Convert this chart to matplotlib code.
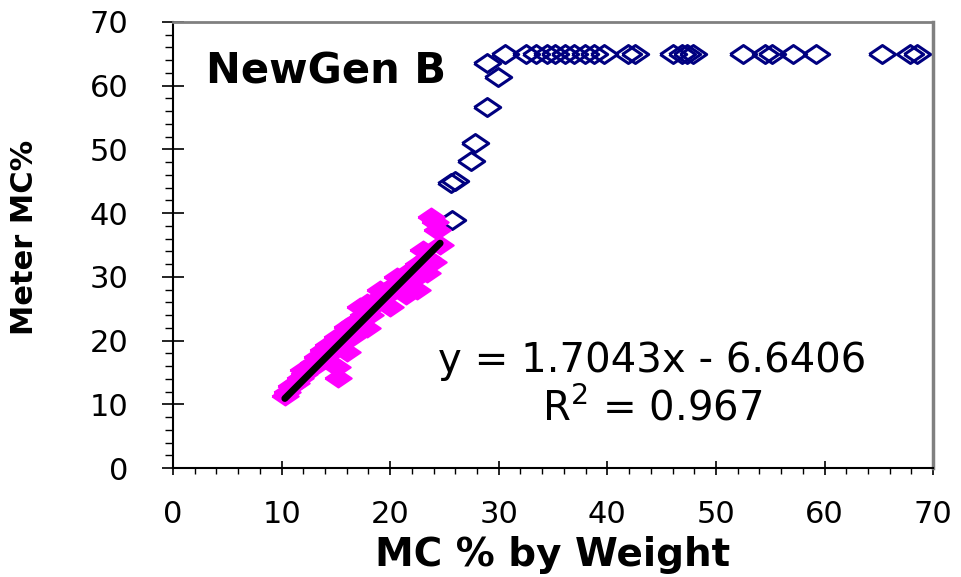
import matplotlib
matplotlib.use("Agg")
import matplotlib.pyplot as plt
from matplotlib.ticker import MultipleLocator
import numpy as np

plt.rcParams["font.family"] = ["DejaVu Sans"]
plt.rcParams["mathtext.default"] = "regular"

# ----------------------------------------------------------------------
# data
# ----------------------------------------------------------------------
# readings above the linear range (open navy diamonds)
blue_x = [25.7, 25.6, 26.0, 27.4, 27.8, 28.9, 28.9, 29.9,
          30.6, 32.5, 33.4, 34.4, 35.2, 36.1, 36.9, 37.9, 38.8, 39.7,
          41.9, 42.5, 46.0, 46.9, 47.3, 47.9, 52.5, 54.5, 55.2, 57.1,
          59.2, 65.3, 67.9, 68.5]
blue_y = [38.9, 44.7, 45.1, 48.2, 51.0, 56.7, 63.6, 61.4,
          65.0, 65.0, 65.0, 65.0, 65.0, 65.0, 65.0, 65.0, 65.0, 65.0,
          65.0, 65.0, 65.0, 65.0, 65.0, 65.0, 65.0, 65.0, 65.0, 65.0,
          65.0, 65.0, 65.0, 65.0]

# readings used for the fit (filled magenta diamonds)
mag_x = [10.3, 10.5, 10.9, 11.3, 11.7, 12.1, 12.0, 12.6, 12.9, 13.3,
         13.4, 13.8, 14.1, 14.3, 14.7, 15.1, 15.1, 15.2, 15.6, 16.0,
         16.0, 16.5, 16.6, 17.2, 17.5, 17.9, 17.9, 18.1, 18.4, 18.8,
         19.1, 19.1, 19.6, 20.0, 20.1, 20.6, 20.6, 21.1, 21.5, 21.8,
         21.9, 22.5, 22.5, 22.6, 23.0, 23.4, 23.4, 23.9, 23.8, 24.3,
         24.1, 24.6]
mag_y = [11.3, 12.0, 12.8, 13.4, 14.2, 14.8, 15.4, 15.7, 16.5, 17.4,
         16.4, 18.5, 17.6, 19.3, 19.6, 20.6, 15.9, 14.2, 20.4, 18.2,
         22.1, 20.6, 22.8, 25.3, 24.0, 25.9, 22.0, 24.0, 25.4, 26.3,
         26.9, 28.0, 27.0, 25.3, 28.0, 29.0, 30.0, 29.6, 27.2, 29.5,
         31.0, 30.0, 27.9, 32.0, 34.2, 30.6, 33.0, 32.4, 39.4, 37.4,
         38.6, 35.0]

# trendline coefficients as printed on the chart
slope = 1.7043
intercept = -6.6406
r_squared = 0.967

# wide diamond, like the stretched Excel marker
diamond = [(-0.5, 0.0), (0.0, 0.34), (0.5, 0.0), (0.0, -0.34), (-0.5, 0.0)]

fig = plt.figure(figsize=(9.61, 5.77), dpi=100)
ax = fig.add_axes([0.180, 0.1889, 0.791, 0.773])

ax.plot(blue_x, blue_y, linestyle="none", marker=diamond, markersize=19,
        markerfacecolor="none", markeredgecolor="#000080",
        markeredgewidth=2.2, zorder=2)
ax.plot(mag_x, mag_y, linestyle="none", marker=diamond, markersize=19,
        markerfacecolor="#FF00FF", markeredgecolor="#FF00FF",
        markeredgewidth=1.5, zorder=3)

fit_x = np.array([min(mag_x), max(mag_x)])
ax.plot(fit_x, slope * fit_x + intercept, color="black", linewidth=5,
        solid_capstyle="round", zorder=4)

ax.set_xlim(0, 70)
ax.set_ylim(0, 70)
ax.xaxis.set_major_locator(MultipleLocator(10))
ax.yaxis.set_major_locator(MultipleLocator(10))
ax.xaxis.set_minor_locator(MultipleLocator(2))
ax.yaxis.set_minor_locator(MultipleLocator(2))

ax.tick_params(axis="x", which="major", direction="inout", length=10,
               width=1.2, labelsize=22, pad=18)
ax.tick_params(axis="x", which="minor", direction="out", length=4,
               width=1.0)
ax.tick_params(axis="y", which="major", direction="inout", length=16,
               width=1.2, labelsize=22, pad=24)
ax.tick_params(axis="y", which="minor", direction="out", length=6,
               width=1.0)

for side in ("left", "bottom"):
    ax.spines[side].set_color("black")
    ax.spines[side].set_linewidth(1.5)
ax.spines["top"].set_color("#808080")
ax.spines["top"].set_linewidth(2.0)
ax.spines["right"].set_color("#808080")
ax.spines["right"].set_linewidth(2.5)

ax.set_xlabel("MC % by Weight", fontsize=28, fontweight="bold", labelpad=5)
fig.text(0.026, 0.589, "Meter MC%", rotation=90, ha="center", va="center",
         fontsize=22, fontweight="bold")

ax.text(0.043, 0.862, "NewGen B", transform=ax.transAxes, fontsize=30,
        fontweight="bold", ha="left", va="baseline")
ax.text(0.63, 0.215, f"y = {slope:.4f}x - {abs(intercept):.4f}",
        transform=ax.transAxes, fontsize=29, ha="center", va="baseline")
ax.text(0.63, 0.107, f"R$^2$ = {r_squared}", transform=ax.transAxes,
        fontsize=29, ha="center", va="baseline")

fig.savefig("out.png", dpi=100)
